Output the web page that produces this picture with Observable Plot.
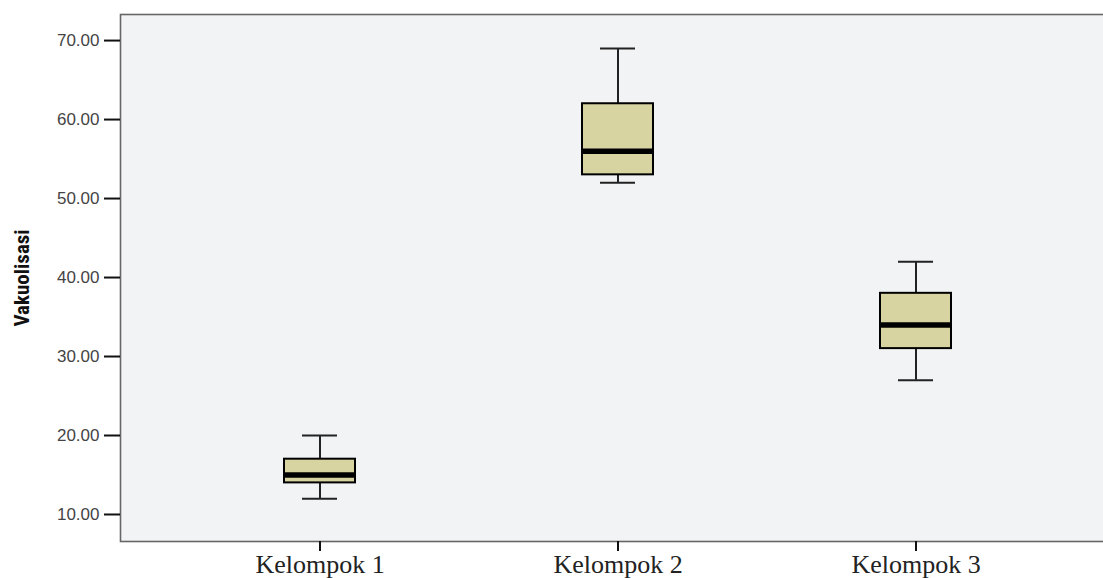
<!DOCTYPE html>
<html>
<head>
<meta charset="utf-8">
<script src="https://cdn.jsdelivr.net/npm/d3@7"></script>
<script src="https://cdn.jsdelivr.net/npm/@observablehq/plot@0.6"></script>
<style>
  html, body { margin: 0; padding: 0; background: #ffffff; }
  #chart svg { display: block; }
</style>
</head>
<body>
<div id="chart"></div>
<script>
const groups = ["Kelompok 1", "Kelompok 2", "Kelompok 3"];
const whiskerLow = [12, 52, 27];
const q1 = [14, 53, 31];
const median = [15, 56, 34];
const q3 = [17, 62, 38];
const whiskerHigh = [20, 69, 42];
const yTicks = [10, 20, 30, 40, 50, 60, 70];
const yTitle = "Vakuolisasi";

const data = groups.map((g, i) => ({
  group: g, lo: whiskerLow[i], q1: q1[i], med: median[i], q3: q3[i], hi: whiskerHigh[i]
}));

const chart = Plot.plot({
  width: 1103,
  height: 578,
  marginLeft: 120,
  marginRight: -11,
  marginTop: 14,
  marginBottom: 37,
  style: { background: "transparent", overflow: "hidden" },
  x: { type: "band", domain: groups, paddingInner: 0.762, paddingOuter: 0.5435, label: null },
  y: { domain: [6.58, 73.3], label: null },
  marks: [
    Plot.frame({ fill: "#f2f3f5", stroke: "none" }),
    Plot.ruleX(data, { x: "group", y1: "lo", y2: "hi", stroke: "#222", strokeWidth: 2 }),
    Plot.tickY(data, { x: "group", y: "lo", stroke: "#222", strokeWidth: 2, insetLeft: 18, insetRight: 18 }),
    Plot.tickY(data, { x: "group", y: "hi", stroke: "#222", strokeWidth: 2, insetLeft: 18, insetRight: 18 }),
    Plot.barY(data, { x: "group", y1: "q1", y2: "q3", fill: "#d7d4a1", stroke: "#000", strokeWidth: 2 }),
    Plot.tickY(data, { x: "group", y: "med", stroke: "#000", strokeWidth: 5.5 }),
    Plot.frame({ stroke: "#666", strokeWidth: 1.6 }),
    Plot.axisY({
      ticks: yTicks, tickFormat: d => d.toFixed(2), tickSize: 16, tickPadding: 5,
      stroke: "#111", strokeWidth: 2, fill: "#444",
      fontFamily: "Liberation Sans, Arial, sans-serif", fontSize: 17, label: null
    }),
    Plot.axisX({
      tickSize: 10, tickPadding: 3.5, stroke: "#111", strokeWidth: 2, fill: "#222",
      fontFamily: "Liberation Serif, Times New Roman, serif", fontSize: 26, label: null
    }),
    Plot.text([yTitle], {
      frameAnchor: "left", rotate: -90, dx: -98, text: d => d, textAnchor: "middle",
      fontFamily: "Liberation Sans Narrow, Arial Narrow, Roboto Condensed, sans-serif",
      fontWeight: "bold", fontSize: 21, fill: "#111"
    })
  ]
});
document.getElementById("chart").appendChild(chart);
</script>
</body>
</html>
